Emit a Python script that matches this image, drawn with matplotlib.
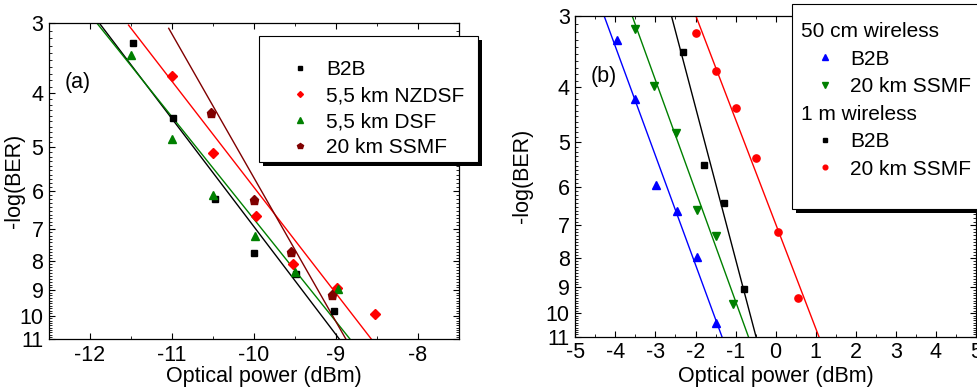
import numpy as np
import matplotlib
matplotlib.use("Agg")
import matplotlib.pyplot as plt
from matplotlib.lines import Line2D
from matplotlib.patches import Rectangle
from matplotlib.ticker import FixedLocator, NullFormatter

plt.rcParams['font.family'] = ['Liberation Sans', 'DejaVu Sans']
plt.rcParams['font.size'] = 15.5
plt.rcParams['axes.unicode_minus'] = False

# ---- panel (a): fibre types, -log(BER) vs received optical power ----
p_b2b = [-11.47, -10.99, -10.48, -10.0, -9.49, -9.02]
q_b2b = [3.26, 4.44, 6.19, 7.72, 8.43, 9.82]
p_nzdsf = [-11.0, -10.5, -9.98, -9.52, -8.99, -8.52]
q_nzdsf = [3.73, 5.12, 6.64, 8.08, 8.92, 9.93]
p_dsf = [-11.5, -11.0, -10.5, -9.99, -9.5, -8.98]
q_dsf = [3.42, 4.84, 6.09, 7.21, 8.34, 8.95]
p_ssmf = [-10.52, -10.0, -9.55, -9.05]
q_ssmf = [4.35, 6.21, 7.70, 9.20]

# linear fits (end points)
fit_a = {
    'b2b':   ([-11.89, -8.96], [3.0, 11.0]),
    'nzdsf': ([-11.53, -8.57], [3.03, 11.0]),
    'dsf':   ([-11.92, -8.83], [3.0, 11.0]),
    'ssmf':  ([-11.04, -8.88], [3.07, 11.0]),
}

# ---- panel (b): wireless links ----
p_50_b2b = [-3.97, -3.51, -2.99, -2.45, -1.96, -1.49]
q_50_b2b = [3.30, 4.20, 5.95, 6.61, 7.95, 10.39]
p_50_ssmf = [-3.5, -3.03, -2.49, -1.96, -1.5, -1.06]
q_50_ssmf = [3.16, 3.98, 4.81, 6.58, 7.31, 9.63]
p_1m_b2b = [-2.32, -1.8, -1.29, -0.79]
q_1m_b2b = [3.47, 5.49, 6.39, 9.05]
p_1m_ssmf = [-1.98, -1.5, -1.0, -0.5, 0.07, 0.56]
q_1m_ssmf = [3.22, 3.75, 4.35, 5.33, 7.19, 9.39]

fit_b = {
    '50_b2b':  ([-4.28, -1.34], [3.0, 11.0]),
    '50_ssmf': ([-3.58, -0.68], [3.0, 11.0]),
    '1m_b2b':  ([-2.60, -0.49], [3.0, 11.0]),
    '1m_ssmf': ([-1.99, 1.08], [3.0, 11.0]),
}

ber_ticks = [3, 4, 5, 6, 7, 8, 9, 10, 11]

W, H = 977, 387
fig = plt.figure(figsize=(W / 100, H / 100), dpi=100)

def px_box(x0, y0, x1, y1):
    return [x0 / W, 1 - y1 / H, (x1 - x0) / W, (y1 - y0) / H]

ax1 = fig.add_axes(px_box(49, 22.7, 459, 339))
ax2 = fig.add_axes(px_box(575.3, 16, 976, 336.7))

def style_axis(ax, xmajor, xminor):
    ax.set_yscale('log')
    ax.set_ylim(11, 3)
    ax.yaxis.set_major_locator(FixedLocator(ber_ticks))
    ax.set_yticklabels([str(t) for t in ber_ticks])
    ax.yaxis.set_minor_locator(FixedLocator(np.arange(3, 11.001, 0.1)))
    ax.yaxis.set_minor_formatter(NullFormatter())
    ax.xaxis.set_major_locator(FixedLocator(xmajor))
    ax.xaxis.set_minor_locator(FixedLocator(xminor))
    ax.tick_params(which='both', direction='in', top=True, right=True, pad=4)
    ax.tick_params(which='major', length=4, width=0.8)
    ax.tick_params(which='minor', length=2.2, width=0.6)
    for s in ax.spines.values():
        s.set_linewidth(0.9)

# panel (a)
style_axis(ax1, [-12, -11, -10, -9, -8], np.arange(-12.5, -7.4, 0.5))
ax1.set_xlim(-12.5, -7.5)
ax1.plot(*fit_a['b2b'], color='black', lw=1.0)
ax1.plot(*fit_a['nzdsf'], color='red', lw=1.0)
ax1.plot(*fit_a['dsf'], color='green', lw=1.0)
ax1.plot(*fit_a['ssmf'], color='#800000', lw=1.0)
ax1.plot(p_b2b, q_b2b, 's', color='black', ms=5, label='B2B')
ax1.plot(p_nzdsf, q_nzdsf, 'D', color='red', ms=4.6, label='5,5 km NZDSF')
ax1.plot(p_dsf, q_dsf, '^', color='green', ms=6, label='5,5 km DSF')
ax1.plot(p_ssmf, q_ssmf, 'p', color='#800000', ms=6.5, label='20 km SSMF')
ax1.set_xlabel('Optical power (dBm)')
ax1.set_ylabel('-log(BER)')
ax1.xaxis.set_label_coords(0.524, -0.085)
ax1.yaxis.set_label_coords(-0.0585, 0.5)
ax1.text(0.07, 0.81, '(a)', transform=ax1.transAxes, ha='center', va='center')

# panel (b)
style_axis(ax2, list(range(-5, 6)), np.arange(-5, 5.01, 0.5))
ax2.set_xlim(-5, 5)
ax2.plot(*fit_b['50_b2b'], color='blue', lw=1.0)
ax2.plot(*fit_b['50_ssmf'], color='green', lw=1.0)
ax2.plot(*fit_b['1m_b2b'], color='black', lw=1.0)
ax2.plot(*fit_b['1m_ssmf'], color='red', lw=1.0)
h1, = ax2.plot(p_50_b2b, q_50_b2b, '^', color='blue', ms=6)
h2, = ax2.plot(p_50_ssmf, q_50_ssmf, 'v', color='green', ms=6)
h3, = ax2.plot(p_1m_b2b, q_1m_b2b, 's', color='black', ms=4.5)
h4, = ax2.plot(p_1m_ssmf, q_1m_ssmf, 'o', color='red', ms=5.2)
ax2.set_xlabel('Optical power (dBm)')
ax2.set_ylabel('-log(BER)')
ax2.xaxis.set_label_coords(0.5, -0.092)
ax2.yaxis.set_label_coords(-0.105, 0.5)
ax2.text(0.07, 0.81, '(b)', transform=ax2.transAxes, ha='center', va='center')

# legend frames with hard shadow
def framed_box(x0, y0, x1, y1, off=4):
    sx, sy, sw, sh = px_box(x0 + off, y0 + off, x1 + off, y1 + off)
    fig.add_artist(Rectangle((sx, sy), sw, sh, transform=fig.transFigure,
                             facecolor='black', edgecolor='none', zorder=2))
    bx, by, bw, bh = px_box(x0, y0, x1, y1)
    fig.add_artist(Rectangle((bx, by), bw, bh, transform=fig.transFigure,
                             facecolor='white', edgecolor='black', lw=0.8, zorder=3))

framed_box(259, 36, 478, 162)
framed_box(791.7, 4, 1010, 209)

hA, lA = ax1.get_legend_handles_labels()
legA = fig.legend(hA, lA, loc='upper left', bbox_to_anchor=(279 / W, 1 - 60 / H),
                  frameon=False, borderpad=0, borderaxespad=0, handlelength=2.0,
                  handletextpad=0.25, labelspacing=0.34, markerscale=0.65,
                  fontsize=15)

blank = Line2D([], [], ls='none')
hB = [blank, h1, h2, blank, h3, h4]
lB = ['50 cm wireless', 'B2B', '20 km SSMF', '1 m wireless', 'B2B', '20 km SSMF']
legB = fig.legend(hB, lB, loc='upper left', bbox_to_anchor=(805 / W, 1 - 22 / H),
                  frameon=False, borderpad=0, borderaxespad=0, handlelength=1.9,
                  handletextpad=0.25, labelspacing=0.41, markerscale=0.65,
                  fontsize=15)
for i in (0, 3):
    legB.get_texts()[i].set_x(-49)

fig.savefig('out.png', dpi=100)
